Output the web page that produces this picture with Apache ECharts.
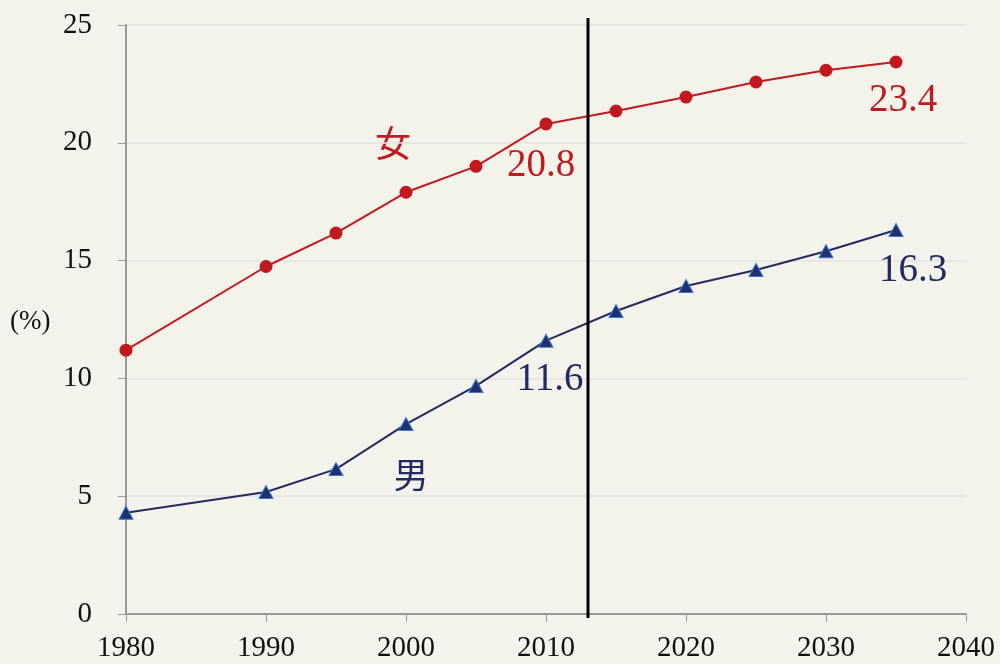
<!DOCTYPE html>
<html>
<head>
<meta charset="utf-8">
<script src="https://cdn.jsdelivr.net/npm/echarts@6/dist/echarts.min.js"></script>
<style>
html,body{margin:0;padding:0;background:#f4f3eb;}
#c{width:1000px;height:664px;}
</style>
</head>
<body>
<div id="c"></div>
<script>
var years = [1980, 1990, 1995, 2000, 2005, 2010, 2015, 2020, 2025, 2030, 2035];
var female = [11.2, 14.75, 16.17, 17.9, 19.0, 20.8, 21.35, 21.94, 22.58, 23.08, 23.43];
var male = [4.3, 5.18, 6.15, 8.06, 9.68, 11.6, 12.86, 13.92, 14.6, 15.4, 16.3];
var femaleName = '女';
var maleName = '男';
var dividerYear = 2013;
var dividerRange = [-0.17, 25.3];
var yUnit = '(%)';

var serif = '"Liberation Serif", "Times New Roman", "Noto Sans CJK JP", serif';
var cjk = '"Noto Sans CJK JP", "Liberation Serif", serif';
var red = '#c2191f';
var navy = '#222a62';

function pairs(xs, ys) { return xs.map(function (x, i) { return [x, ys[i]]; }); }

var femaleData = pairs(years, female).map(function (p) {
  var d = { value: p };
  if (p[0] === 2010) d.label = { show: true, offset: [-5, 42] };
  if (p[0] === 2035) d.label = { show: true, offset: [7, 39] };
  return d;
});
var maleData = pairs(years, male).map(function (p) {
  var d = { value: p };
  if (p[0] === 2010) d.label = { show: true, offset: [4, 39] };
  if (p[0] === 2035) d.label = { show: true, offset: [17, 41] };
  return d;
});

var chart = echarts.init(document.getElementById('c'));
chart.setOption({
  backgroundColor: '#f4f3eb',
  animation: false,
  grid: { left: 126, right: 34, top: 25, bottom: 50, containLabel: false },
  xAxis: {
    type: 'value', min: 1980, max: 2040, interval: 10,
    axisLine: { show: true, onZero: false, lineStyle: { color: '#999999', width: 2 } },
    axisTick: { show: true, length: 8, lineStyle: { color: '#999999', width: 1 } },
    splitLine: { show: false },
    axisLabel: { color: '#111', fontFamily: serif, fontSize: 29, margin: 20, formatter: function (v) { return String(v); } }
  },
  yAxis: {
    type: 'value', min: 0, max: 25, interval: 5,
    axisLine: { show: true, lineStyle: { color: '#999999', width: 2 } },
    axisTick: { show: true, length: 8, lineStyle: { color: '#999999', width: 1 } },
    splitLine: { show: true, lineStyle: { color: '#e3e2dc', width: 1.5 } },
    axisLabel: { color: '#111', fontFamily: serif, fontSize: 29, margin: 34 }
  },
  graphic: [
    { type: 'text', left: 10, top: 308, style: { text: yUnit, font: '27px ' + serif, fill: '#111' } },
    { type: 'text', x: 393, y: 143, style: { text: femaleName, font: '36px ' + cjk, fill: red, align: 'center', verticalAlign: 'middle' } },
    { type: 'text', x: 411, y: 475, style: { text: maleName, font: '35px ' + cjk, fill: navy, align: 'center', verticalAlign: 'middle' } }
  ],
  series: [
    {
      name: femaleName, type: 'line', data: femaleData,
      symbol: 'circle', symbolSize: 13,
      lineStyle: { color: red, width: 2 },
      itemStyle: { color: red },
      label: { show: false, formatter: function (p) { return p.value[1].toFixed(1); }, color: red, fontFamily: serif, fontSize: 39, position: 'inside' },
      z: 3
    },
    {
      name: maleName, type: 'line', data: maleData,
      symbol: 'triangle', symbolSize: [14, 13],
      lineStyle: { color: navy, width: 2 },
      itemStyle: { color: '#1e2f72', borderColor: '#3a7cc9', borderWidth: 1 },
      label: { show: false, formatter: function (p) { return p.value[1].toFixed(1); }, color: navy, fontFamily: serif, fontSize: 39, position: 'inside' },
      z: 3
    },
    {
      type: 'line', data: [[dividerYear, dividerRange[0]], [dividerYear, dividerRange[1]]],
      symbol: 'none', clip: false, silent: true,
      lineStyle: { color: '#000', width: 3 }, z: 4
    }
  ]
});
</script>
</body>
</html>
